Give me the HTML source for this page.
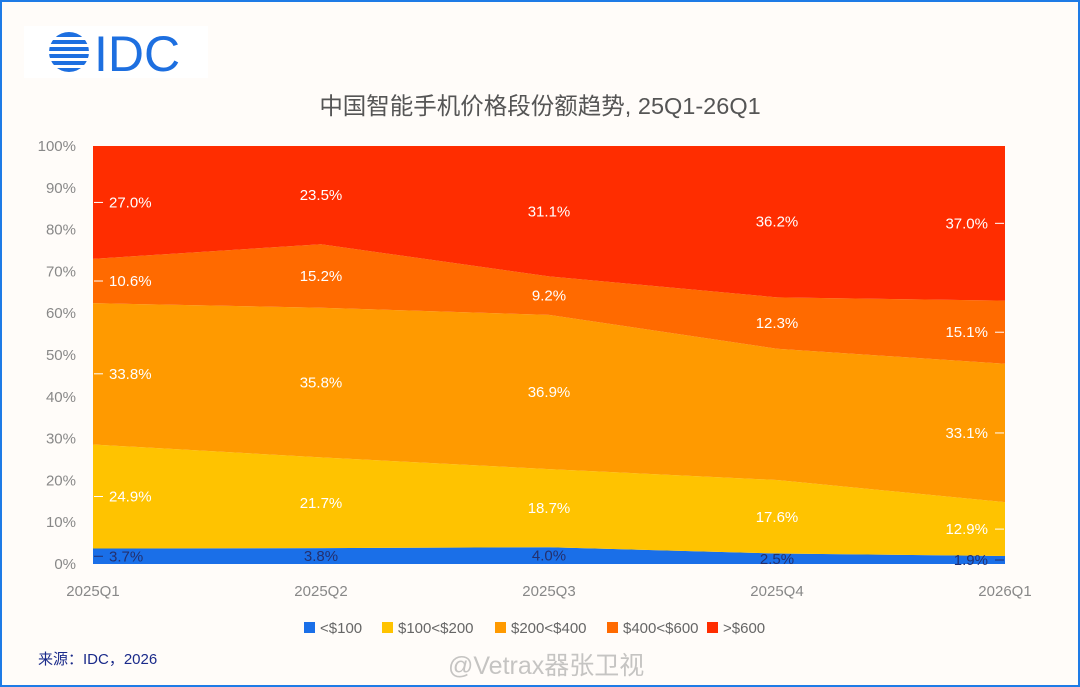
<!DOCTYPE html>
<html><head><meta charset="utf-8">
<style>
body{margin:0;background:#fff;}
#wrap{position:relative;width:1076px;height:683px;border:2px solid #1e7be6;background:#fffcf9;overflow:hidden;font-family:"Liberation Sans","Noto Sans CJK SC",sans-serif;}
#logo{position:absolute;left:22px;top:24px;width:184px;height:52px;background:#fff;}
#title{position:absolute;left:0;width:1076px;top:85px;text-align:center;font-size:23.5px;color:#555;}
#src{position:absolute;left:36px;top:646px;font-size:15px;color:#1a2a8a;}
#wm{position:absolute;left:446px;top:644px;font-size:25px;color:rgba(150,150,150,0.55);}
svg{position:absolute;left:0;top:0;}
</style></head><body>
<div id="wrap">
<div id="logo">
<svg width="184" height="52">
<defs><clipPath id="c"><circle cx="45" cy="26" r="20"/></clipPath></defs>
<g clip-path="url(#c)" fill="#1d6fe0">
<rect x="20" y="6" width="50" height="5"/><rect x="20" y="14" width="50" height="4"/><rect x="20" y="21" width="50" height="4"/><rect x="20" y="28" width="50" height="4"/><rect x="20" y="35" width="50" height="4"/><rect x="20" y="42" width="50" height="5"/>
</g>
<text x="70" y="45" font-size="50" font-family="Liberation Sans" fill="#1d6fe0">IDC</text>
</svg></div>
<div id="title">中国智能手机价格段份额趋势, 25Q1-26Q1</div>
<svg id="chart" width="1076" height="683"></svg>
<div id="src">来源：IDC，2026</div>
<div id="wm">@Vetrax器张卫视</div>
</div>
<script>
const categories=["2025Q1","2025Q2","2025Q3","2025Q4","2026Q1"];
const seriesNames=["<$100","$100<$200","$200<$400","$400<$600",">$600"];
const s0=[3.7,3.8,4.0,2.5,1.9];
const s1=[24.9,21.7,18.7,17.6,12.9];
const s2=[33.8,35.8,36.9,31.4,33.1];
const s3=[10.6,15.2,9.2,12.3,15.1];
const s4=[27.0,23.5,31.1,36.2,37.0];
const s2Shown=[true,true,true,false,true];
const yTicks=[0,10,20,30,40,50,60,70,80,90,100];
const series=[s0,s1,s2,s3,s4];
const colors=["#1a6fe8","#ffc300","#ff9a00","#ff6a00","#ff2d00"];
const NS="http://www.w3.org/2000/svg";
const svg=document.getElementById('chart');
const x0=91,x1=1003,yTop=144,yBot=562;
const X=i=>x0+(x1-x0)*i/(categories.length-1);
const Y=v=>yBot-(yBot-yTop)*Math.min(v,100)/100;
function mk(t,a){const e=document.createElementNS(NS,t);for(const k in a)e.setAttribute(k,a[k]);svg.appendChild(e);return e;}
const cum=[];let base=categories.map(()=>0);
series.forEach(s=>{const lo=base.slice();const hi=base.map((b,i)=>b+s[i]);cum.push([lo,hi]);base=hi;});
cum.forEach(([lo,hi],k)=>{
  let d="M"+hi.map((v,i)=>X(i)+","+Y(k===4?100:v)).join(" L");
  for(let i=lo.length-1;i>=0;i--)d+=" L"+X(i)+","+Y(lo[i]);
  const p=mk('path',{d:d+"Z",fill:colors[k]});
  
  
});
yTicks.forEach(t=>{
  const e=mk('text',{x:74,y:Y(t)+5,'text-anchor':'end','font-size':15,fill:'#888'});
  e.textContent=t+"%";
  
  
});
categories.forEach((c,i)=>{
  const e=mk('text',{x:X(i),y:594,'text-anchor':'middle','font-size':15,fill:'#888'});
  e.textContent=c;
  
  
});
cum.forEach(([lo,hi],k)=>{
  categories.forEach((c,i)=>{
    if(k===2&&!s2Shown[i])return;
    const v=series[k][i];const ym=Y((lo[i]+hi[i])/2);
    const col=k===0?'#24306e':'#fff';
    let anchor='middle',tx=X(i);
    if(i===0){anchor='start';tx=X(i)+16;mk('line',{x1:X(i)+1,x2:X(i)+10,y1:ym,y2:ym,stroke:col,'stroke-width':1});}
    else if(i===categories.length-1){anchor='end';tx=X(i)-17;mk('line',{x1:X(i)-10,x2:X(i)-1,y1:ym,y2:ym,stroke:col,'stroke-width':1});}
    const e=mk('text',{x:tx,y:ym+5,'text-anchor':anchor,'font-size':15,fill:col});
    e.textContent=v.toFixed(1)+"%";
    
    
  });
});
const lx=[302,380,493,605,705];
seriesNames.forEach((n,k)=>{
  const r=mk('rect',{x:lx[k],y:620,width:11,height:11,fill:colors[k]});
  
  
  const t=mk('text',{x:lx[k]+16,y:631,'font-size':15,fill:'#666'});
  t.textContent=n;
  
  
});
</script>
</body></html>
